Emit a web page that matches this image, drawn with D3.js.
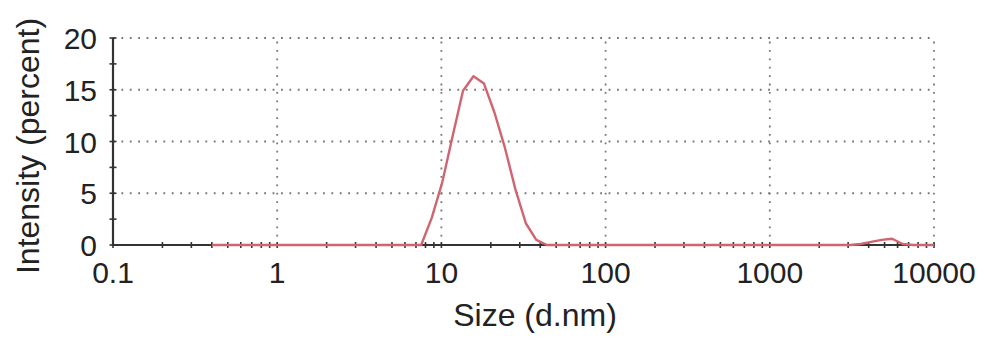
<!DOCTYPE html>
<html><head><meta charset="utf-8">
<script src="https://cdn.jsdelivr.net/npm/d3@7"></script>
<style>body{margin:0;background:#fff}svg{display:block}text{font-family:"Liberation Sans",Arial,sans-serif;fill:#222}</style>
</head><body><svg id="c" width="991" height="346"></svg>
<script>
const sizes = [0.4,0.4632,0.5365,0.6213,0.7195,0.8332,0.9649,1.117,1.294,1.499,1.736,2.01,2.328,2.696,3.122,3.615,4.187,4.849,5.615,6.503,7.531,8.721,10.1,11.7,13.54,15.69,18.17,21.04,24.36,28.21,32.67,37.84,43.82,50.75,58.77,68.06,78.82,91.28,105.7,122.4,141.8,164.2,190.1,220.2,255,295.3,342,396.1,458.7,531.2,615.1,712.4,825,955.4,1106,1281,1484,1718,1990,2305,2669,3091,3580,4145,4801,5560,6439,7456,8635,10000];
const intensity = [0,0,0,0,0,0,0,0,0,0,0,0,0,0,0,0,0,0,0,0,0,2.6,6.0,10.5,14.9,16.3,15.6,12.8,9.4,5.4,2.1,0.5,0,0,0,0,0,0,0,0,0,0,0,0,0,0,0,0,0,0,0,0,0,0,0,0,0,0,0,0,0,0,0.1,0.3,0.5,0.6,0.1,0,0,0];
const xTicks = [0.1,1,10,100,1000,10000];
const xTickLabels = ["0.1","1","10","100","1000","10000"];
const yTicks = [0,5,10,15,20];
const yTickLabels = ["0","5","10","15","20"];
const xTitle = "Size (d.nm)";
const yTitle = "Intensity (percent)";

const svg = d3.select("#c");
const x = d3.scaleLog().domain([0.1,10000]).range([113,934]);
const y = d3.scaleLinear().domain([0,20]).range([245,38]);

// grid
const g = svg.append("g");
g.selectAll(".hg").data(yTicks.filter(d=>d>0)).enter().append("line")
  .attr("x1",x(0.1)).attr("x2",x(10000)).attr("y1",d=>y(d)).attr("y2",d=>y(d))
  .attr("stroke","#777").attr("stroke-width",1.8).attr("stroke-dasharray","1.8,6.6");
g.selectAll(".vg").data(xTicks.filter(d=>d>0.1)).enter().append("line")
  .attr("x1",d=>x(d)).attr("x2",d=>x(d)).attr("y1",y(0)).attr("y2",y(20))
  .attr("stroke","#777").attr("stroke-width",1.8).attr("stroke-dasharray","1.8,6.6");

// axes lines
svg.append("line").attr("x1",x(0.1)).attr("x2",x(10000)).attr("y1",y(0)).attr("y2",y(0)).attr("stroke","#333").attr("stroke-width",2.2);
svg.append("line").attr("x1",x(0.1)).attr("x2",x(0.1)).attr("y1",y(0)).attr("y2",y(20)).attr("stroke","#333").attr("stroke-width",2.2);

// minor ticks
const minor = [];
for (let e=-1;e<4;e++) for (let m=1;m<10;m++) minor.push(m*Math.pow(10,e));
minor.push(10000);
svg.selectAll(".xt").data(minor).enter().append("line")
  .attr("x1",d=>x(d)).attr("x2",d=>x(d)).attr("y1",y(0)-3).attr("y2",y(0)+3)
  .attr("stroke","#333").attr("stroke-width",1.6);
const yMinor = d3.range(0,20.01,2.5);
svg.selectAll(".yt").data(yMinor).enter().append("line")
  .attr("x1",x(0.1)-3.5).attr("x2",x(0.1)+3.5).attr("y1",d=>y(d)).attr("y2",d=>y(d))
  .attr("stroke","#333").attr("stroke-width",1.6);

// data line
const line = d3.line().x((d,i)=>x(sizes[i])).y(d=>y(d));
svg.append("path").datum(intensity).attr("d",line).attr("fill","none")
  .attr("stroke","#d06470").attr("stroke-width",2.4).attr("stroke-linejoin","round");

// tick labels
svg.selectAll(".xl").data(xTicks).enter().append("text")
  .attr("x",d=>x(d)).attr("y",283).attr("text-anchor","middle").attr("font-size",30)
  .text((d,i)=>xTickLabels[i]);
svg.selectAll(".yl").data(yTicks).enter().append("text")
  .attr("x",97).attr("y",d=>y(d)+11).attr("text-anchor","end").attr("font-size",30)
  .text((d,i)=>yTickLabels[i]);

// titles
svg.append("text").attr("x",535).attr("y",326).attr("text-anchor","middle").attr("font-size",32).text(xTitle);
svg.append("text").attr("transform","translate(39,146) rotate(-90)").attr("text-anchor","middle").attr("font-size",32).text(yTitle);
</script></body></html>
